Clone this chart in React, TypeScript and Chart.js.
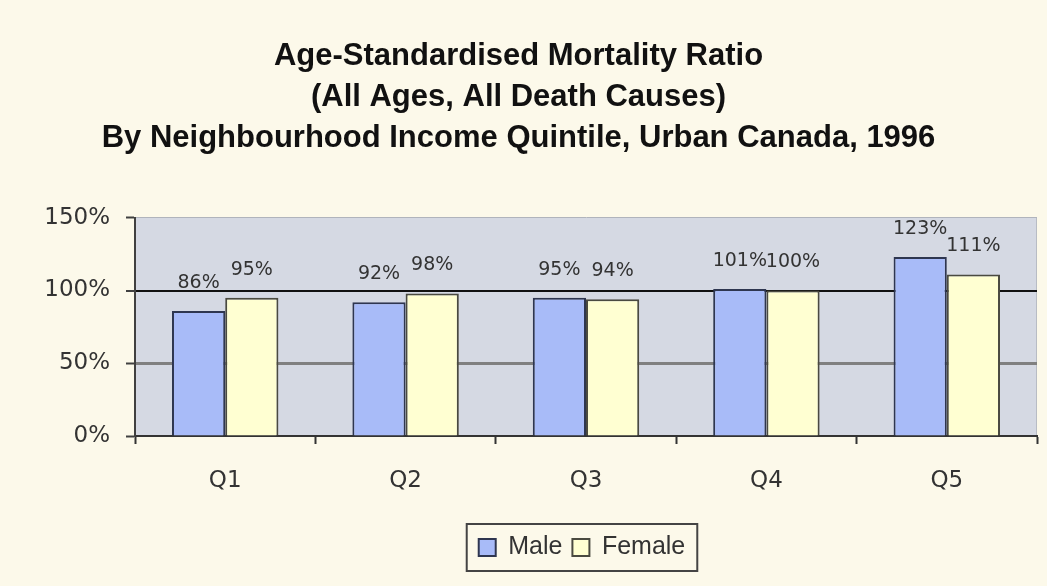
import React, { useEffect, useRef } from "react";
import { Chart, registerables } from "chart.js";

Chart.register(...registerables);

const titleLines = [
  "Age-Standardised Mortality Ratio",
  "(All Ages, All Death Causes)",
  "By Neighbourhood Income Quintile, Urban Canada, 1996",
];
const categories = ["Q1", "Q2", "Q3", "Q4", "Q5"];
const maleValues = [86, 92, 95, 101, 123];
const femaleValues = [95, 98, 94, 100, 111];
const yTicks = [0, 50, 100, 150];

const BG = "#FCF9EA";
const PLOT_BG = "#D5D9E3";

const plotBgPlugin = {
  id: "plotBg",
  afterLayout(chart: any) {
    const lg = chart.legend;
    const ca = chart.chartArea;
    if (!lg || !ca) return;
    const target = (ca.left + ca.right) / 2 - 4;
    const current = (lg.left + lg.right) / 2;
    const off = target - current;
    lg.left += off;
    lg.right += off;
  },
  beforeDraw(chart: any) {
    const { ctx, chartArea } = chart;
    ctx.save();
    ctx.fillStyle = BG;
    ctx.fillRect(0, 0, chart.width, chart.height);
    ctx.fillStyle = PLOT_BG;
    ctx.fillRect(chartArea.left, chartArea.top, chartArea.right - chartArea.left, chartArea.bottom - chartArea.top);
    ctx.strokeStyle = "#B8BCC4";
    ctx.lineWidth = 1;
    ctx.beginPath();
    ctx.moveTo(chartArea.right - 0.5, chartArea.top);
    ctx.lineTo(chartArea.right - 0.5, chartArea.bottom);
    ctx.stroke();
    ctx.restore();
  },
};

const valueLabelPlugin = {
  id: "valueLabels",
  afterDatasetsDraw(chart: any) {
    const { ctx } = chart;
    ctx.save();
    ctx.font = "19px 'DejaVu Sans'";
    ctx.fillStyle = "#333333";
    ctx.textAlign = "center";
    ctx.textBaseline = "middle";
    chart.data.datasets.forEach((ds: any, di: number) => {
      const meta = chart.getDatasetMeta(di);
      meta.data.forEach((bar: any, i: number) => {
        ctx.fillText(ds.data[i] + "%", bar.x, bar.y - 28);
      });
    });
    ctx.restore();
  },
};

const legendBoxPlugin = {
  id: "legendBox",
  afterDraw(chart: any) {
    const lg = chart.legend;
    if (!lg || !lg.legendHitBoxes || !lg.legendHitBoxes.length) return;
    const hb = lg.legendHitBoxes;
    let minX = Infinity, maxX = -Infinity, minY = Infinity, maxY = -Infinity;
    hb.forEach((h: any) => {
      minX = Math.min(minX, h.left);
      maxX = Math.max(maxX, h.left + h.width);
      minY = Math.min(minY, h.top);
      maxY = Math.max(maxY, h.top + h.height);
    });
    const { ctx } = chart;
    ctx.save();
    ctx.strokeStyle = "#444444";
    ctx.lineWidth = 2;
    ctx.strokeRect(minX - 12, minY - 11, maxX - minX + 24, maxY - minY + 22);
    ctx.restore();
  },
};

export default function App() {
  const ref = useRef<HTMLCanvasElement | null>(null);

  useEffect(() => {
    if (!ref.current) return;
    const chart = new Chart(ref.current, {
      type: "bar",
      data: {
        labels: categories,
        datasets: [
          {
            label: "Male",
            data: maleValues,
            backgroundColor: "#A8BBF8",
            borderColor: "#2E3650",
            borderWidth: 2,
            borderSkipped: "bottom",
            categoryPercentage: 0.59,
            barPercentage: 1.0,
          },
          {
            label: "Female",
            data: femaleValues,
            backgroundColor: "#FFFFD2",
            borderColor: "#4A4A40",
            borderWidth: 2,
            borderSkipped: "bottom",
            categoryPercentage: 0.59,
            barPercentage: 1.0,
          },
        ],
      },
      options: {
        animation: false,
        responsive: true,
        maintainAspectRatio: false,
        layout: { padding: { top: 0, right: 10, bottom: 16, left: 0 } },
        plugins: {
          title: {
            display: true,
            text: titleLines,
            color: "#111111",
            font: { family: "'Liberation Sans', Arial, sans-serif", size: 31, weight: "bold", lineHeight: 1.32 },
            padding: { top: 36, bottom: 59 },
          },
          legend: {
            display: true,
            position: "bottom",
            labels: {
              color: "#333333",
              font: { family: "'Liberation Sans', Arial, sans-serif", size: 25 },
              boxWidth: 17,
              boxHeight: 17,
              padding: 10,
            },
          },
          tooltip: { enabled: false },
        },
        scales: {
          x: {
            afterFit(scale: any) {
              scale.height = 89;
            },
            grid: {
              offset: true,
              drawOnChartArea: false,
              drawTicks: true,
              tickLength: 8,
              tickColor: "#333333",
              tickWidth: 2,
            },
            border: { display: true, color: "#333333", width: 2 },
            ticks: {
              color: "#333333",
              font: { family: "'DejaVu Sans', sans-serif", size: 23 },
              padding: 23,
            },
          },
          y: {
            min: 0,
            max: 150,
            afterFit(scale: any) {
              scale.width = 135;
            },
            afterBuildTicks(scale: any) {
              scale.ticks = yTicks.map((v) => ({ value: v }));
            },
            grid: {
              color: (ctx: any) => {
                const v = ctx.tick && ctx.tick.value;
                if (v === 100) return "#111111";
                if (v === 50) return "#808080";
                if (v === 150) return "#B0B4BC";
                return "rgba(0,0,0,0)";
              },
              lineWidth: (ctx: any) => {
                const v = ctx.tick && ctx.tick.value;
                if (v === 100) return 2;
                if (v === 50) return 3;
                return 1;
              },
              drawTicks: true,
              tickLength: 9,
              tickColor: "#404040",
              tickWidth: 2,
            },
            border: { display: true, color: "#404040", width: 2 },
            ticks: {
              color: "#333333",
              font: { family: "'DejaVu Sans', sans-serif", size: 23 },
              padding: 16,
              callback: (v: any) => v + "%",
            },
          },
        },
      },
      plugins: [plotBgPlugin, valueLabelPlugin, legendBoxPlugin],
    });
    return () => chart.destroy();
  }, []);

  return (
    <div style={{ position: "fixed", left: 0, top: 0, width: 1047, height: 586, background: BG }}>
      <canvas ref={ref} />
    </div>
  );
}
